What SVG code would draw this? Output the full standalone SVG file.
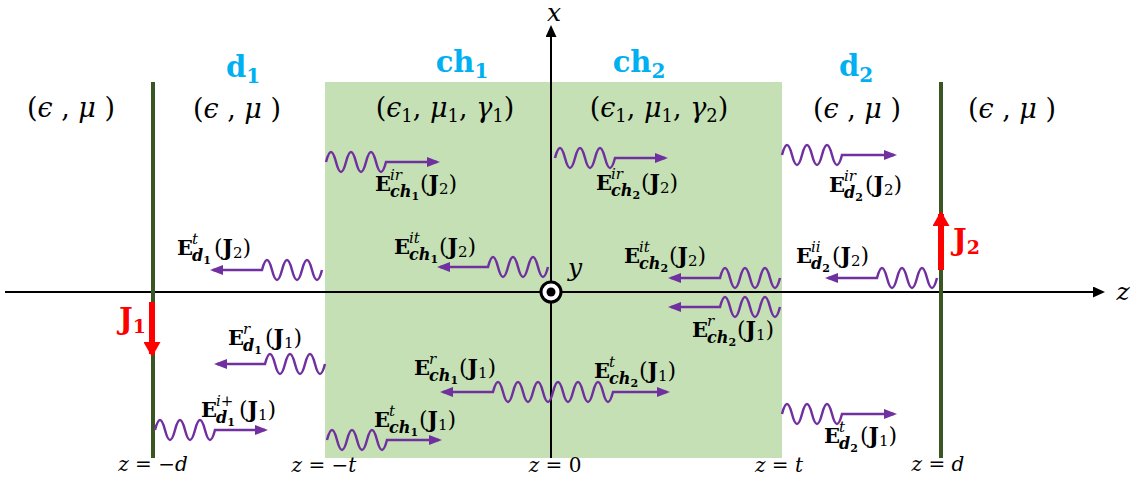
<svg xmlns="http://www.w3.org/2000/svg" width="1144" height="482" viewBox="0 0 1144 482">
<style>
text{font-family:"DejaVu Serif","Liberation Serif",serif;fill:#000}
.reg{font-size:27px}
.i{font-style:italic}
.n{font-size:18px}
.cy{font-size:29px;font-weight:bold;fill:#00B0F0}
.cys{font-size:20px}
.E{font-size:21px;font-weight:bold}
.sp{font-size:15px;font-style:italic}
.sb{font-size:16px;font-style:italic;font-weight:bold}
.ss{font-size:11px;font-weight:bold;font-style:normal}
.arg{font-size:22px}
.J{font-weight:bold}
.js{font-size:15px}
.red{fill:#FF0000;font-weight:bold;font-size:29px}
.ax{font-size:25px;font-style:italic}
.bot{font-size:20px}
.wave{fill:none;stroke:#7030A0;stroke-width:2.5}
.fw{marker-end:url(#ah)}
.bw{marker-start:url(#ah)}
.plate{stroke:#385723;stroke-width:4}
</style>
<defs>
<marker id="ah" viewBox="0 0 13 10" refX="10" refY="5" markerWidth="13" markerHeight="10" markerUnits="userSpaceOnUse" orient="auto-start-reverse"><path d="M0,0 L13,5 L0,10 z" fill="#7030A0"/></marker>
<marker id="axh" viewBox="0 0 12 11" refX="9" refY="5.5" markerWidth="12" markerHeight="11" markerUnits="userSpaceOnUse" orient="auto"><path d="M0,0 L12,5.5 L0,11 z" fill="#000"/></marker>
<marker id="rh" viewBox="0 0 15 17" refX="12" refY="8.5" markerWidth="15" markerHeight="17" markerUnits="userSpaceOnUse" orient="auto"><path d="M0,0 L15,8.5 L0,17 z" fill="#FF0000"/></marker>
</defs>

<g id="channel-region">
<rect x="325" y="82" width="457" height="376" fill="#C5E0B4"/>
</g>

<g id="axes">
<line x1="5" y1="292" x2="1102" y2="292" stroke="#000" stroke-width="2" marker-end="url(#axh)"/>
<line x1="551" y1="458" x2="551" y2="28" stroke="#000" stroke-width="2" marker-end="url(#axh)"/>
<text class="ax" x="554" y="21" text-anchor="middle">x</text>
<text class="ax" x="1123" y="300" text-anchor="middle">z</text>
<text class="ax" x="575" y="276" text-anchor="middle">y</text>
</g>

<g id="plate-left">
<line class="plate" x1="153" y1="82" x2="153" y2="458"/>
</g>
<g id="plate-right">
<line class="plate" x1="941" y1="82" x2="941" y2="458"/>
</g>

<g id="origin">
<circle cx="551" cy="292" r="10" fill="#fff" stroke="#000" stroke-width="3"/>
<circle cx="551" cy="292" r="4.5" fill="#000"/>
</g>

<g id="source-J1">
<line x1="152" y1="302" x2="152" y2="354" stroke="#FF0000" stroke-width="6" marker-end="url(#rh)"/>
<text class="red" x="119" y="329">J<tspan font-size="19" dy="4">1</tspan></text>
</g>
<g id="source-J2">
<line x1="941" y1="270" x2="941" y2="214" stroke="#FF0000" stroke-width="6" marker-end="url(#rh)"/>
<text class="red" x="953" y="250">J<tspan font-size="19" dy="4">2</tspan></text>
</g>

<g id="region-labels">
<text class="cy" x="243" y="77" text-anchor="middle">d<tspan class="cys" dy="6">1</tspan></text>
<text class="cy" x="462" y="72" text-anchor="middle">ch<tspan class="cys" dy="6">1</tspan></text>
<text class="cy" x="639" y="72" text-anchor="middle">ch<tspan class="cys" dy="6">2</tspan></text>
<text class="cy" x="856" y="76" text-anchor="middle">d<tspan class="cys" dy="6">2</tspan></text>
<text class="reg" x="71" y="117" text-anchor="middle">(<tspan class="i">ϵ</tspan> , <tspan class="i">μ</tspan> )</text>
<text class="reg" x="237" y="118" text-anchor="middle">(<tspan class="i">ϵ</tspan> , <tspan class="i">μ</tspan> )</text>
<text class="reg" x="445" y="117" text-anchor="middle">(<tspan class="i">ϵ</tspan><tspan class="n" dy="5">1</tspan><tspan dy="-5">, </tspan><tspan class="i">μ</tspan><tspan class="n" dy="5">1</tspan><tspan dy="-5">, </tspan><tspan class="i">γ</tspan><tspan class="n" dy="5">1</tspan><tspan dy="-5">)</tspan></text>
<text class="reg" x="659" y="117" text-anchor="middle">(<tspan class="i">ϵ</tspan><tspan class="n" dy="5">1</tspan><tspan dy="-5">, </tspan><tspan class="i">μ</tspan><tspan class="n" dy="5">1</tspan><tspan dy="-5">, </tspan><tspan class="i">γ</tspan><tspan class="n" dy="5">2</tspan><tspan dy="-5">)</tspan></text>
<text class="reg" x="857" y="118" text-anchor="middle">(<tspan class="i">ϵ</tspan> , <tspan class="i">μ</tspan> )</text>
<text class="reg" x="1012" y="118" text-anchor="middle">(<tspan class="i">ϵ</tspan> , <tspan class="i">μ</tspan> )</text>
</g>

<g id="position-labels">
<text class="bot" x="153" y="471" text-anchor="middle"><tspan class="i">z</tspan> = −<tspan class="i">d</tspan></text>
<text class="bot" x="324" y="472" text-anchor="middle"><tspan class="i">z</tspan> = −<tspan class="i">t</tspan></text>
<text class="bot" x="555" y="472" text-anchor="middle"><tspan class="i">z</tspan> = 0</text>
<text class="bot" x="779" y="472" text-anchor="middle"><tspan class="i">z</tspan> = <tspan class="i">t</tspan></text>
<text class="bot" x="938" y="471" text-anchor="middle"><tspan class="i">z</tspan> = <tspan class="i">d</tspan></text>
</g>

<g id="connectors">
<path class="wave fw" d="M326,162c3.5,-13.3 6.5,-13.3 10,0c3.5,13.3 6.5,13.3 10,0c3.5,-13.3 6.5,-13.3 10,0c3.5,13.3 6.5,13.3 10,0c3.5,-13.3 6.5,-13.3 10,0c3.5,13.3 6.5,13.3 10,0H437"/>
<path class="wave fw" d="M555,158c3.5,-13.3 6.5,-13.3 10,0c3.5,13.3 6.5,13.3 10,0c3.5,-13.3 6.5,-13.3 10,0c3.5,13.3 6.5,13.3 10,0c3.5,-13.3 6.5,-13.3 10,0c3.5,13.3 6.5,13.3 10,0H665"/>
<path class="wave fw" d="M782,155c3.5,-13.3 6.5,-13.3 10,0c3.5,13.3 6.5,13.3 10,0c3.5,-13.3 6.5,-13.3 10,0c3.5,13.3 6.5,13.3 10,0c3.5,-13.3 6.5,-13.3 10,0c3.5,13.3 6.5,13.3 10,0H894"/>
<path class="wave bw" d="M213,270H262c3.5,-13.3 6.5,-13.3 10,0c3.5,13.3 6.5,13.3 10,0c3.5,-13.3 6.5,-13.3 10,0c3.5,13.3 6.5,13.3 10,0c3.5,-13.3 6.5,-13.3 10,0c3.5,13.3 6.5,13.3 10,0"/>
<path class="wave bw" d="M440,267H488c3.5,-13.3 6.5,-13.3 10,0c3.5,13.3 6.5,13.3 10,0c3.5,-13.3 6.5,-13.3 10,0c3.5,13.3 6.5,13.3 10,0c3.5,-13.3 6.5,-13.3 10,0c3.5,13.3 6.5,13.3 10,0"/>
<path class="wave bw" d="M671,278H720c3.5,-13.3 6.5,-13.3 10,0c3.5,13.3 6.5,13.3 10,0c3.5,-13.3 6.5,-13.3 10,0c3.5,13.3 6.5,13.3 10,0c3.5,-13.3 6.5,-13.3 10,0c3.5,13.3 6.5,13.3 10,0"/>
<path class="wave bw" d="M828,278H877c3.5,-13.3 6.5,-13.3 10,0c3.5,13.3 6.5,13.3 10,0c3.5,-13.3 6.5,-13.3 10,0c3.5,13.3 6.5,13.3 10,0c3.5,-13.3 6.5,-13.3 10,0c3.5,13.3 6.5,13.3 10,0"/>
<path class="wave bw" d="M671,307H720c3.5,-13.3 6.5,-13.3 10,0c3.5,13.3 6.5,13.3 10,0c3.5,-13.3 6.5,-13.3 10,0c3.5,13.3 6.5,13.3 10,0c3.5,-13.3 6.5,-13.3 10,0c3.5,13.3 6.5,13.3 10,0"/>
<path class="wave bw" d="M217,364H265c3.5,-13.3 6.5,-13.3 10,0c3.5,13.3 6.5,13.3 10,0c3.5,-13.3 6.5,-13.3 10,0c3.5,13.3 6.5,13.3 10,0c3.5,-13.3 6.5,-13.3 10,0c3.5,13.3 6.5,13.3 10,0"/>
<path class="wave bw" d="M443,392H493c3.5,-13.3 6.5,-13.3 10,0c3.5,13.3 6.5,13.3 10,0c3.5,-13.3 6.5,-13.3 10,0c3.5,13.3 6.5,13.3 10,0c3.5,-13.3 6.5,-13.3 10,0c3.5,13.3 6.5,13.3 10,0"/>
<path class="wave fw" d="M553,392c3.5,-13.3 6.5,-13.3 10,0c3.5,13.3 6.5,13.3 10,0c3.5,-13.3 6.5,-13.3 10,0c3.5,13.3 6.5,13.3 10,0c3.5,-13.3 6.5,-13.3 10,0c3.5,13.3 6.5,13.3 10,0H667"/>
<path class="wave fw" d="M155,430c3.5,-13.3 6.5,-13.3 10,0c3.5,13.3 6.5,13.3 10,0c3.5,-13.3 6.5,-13.3 10,0c3.5,13.3 6.5,13.3 10,0c3.5,-13.3 6.5,-13.3 10,0c3.5,13.3 6.5,13.3 10,0H265"/>
<path class="wave fw" d="M327,440c3.5,-13.3 6.5,-13.3 10,0c3.5,13.3 6.5,13.3 10,0c3.5,-13.3 6.5,-13.3 10,0c3.5,13.3 6.5,13.3 10,0c3.5,-13.3 6.5,-13.3 10,0c3.5,13.3 6.5,13.3 10,0H439"/>
<path class="wave fw" d="M782,414c3.5,-13.3 6.5,-13.3 10,0c3.5,13.3 6.5,13.3 10,0c3.5,-13.3 6.5,-13.3 10,0c3.5,13.3 6.5,13.3 10,0c3.5,-13.3 6.5,-13.3 10,0c3.5,13.3 6.5,13.3 10,0H894"/>
</g>

<g id="field-labels">
<g id="lbl-ch1-ir"><text class="E" x="375" y="191">E</text><text class="sp" x="390" y="180">ir</text><text class="sb" x="390" y="197">ch<tspan class="ss" dy="3">1</tspan></text><text class="arg" x="420" y="191">(<tspan class="J">J</tspan><tspan class="js" dy="3">2</tspan><tspan dy="-3">)</tspan></text></g>
<g id="lbl-ch2-ir"><text class="E" x="596" y="190">E</text><text class="sp" x="611" y="179">ir</text><text class="sb" x="611" y="196">ch<tspan class="ss" dy="3">2</tspan></text><text class="arg" x="641" y="190">(<tspan class="J">J</tspan><tspan class="js" dy="3">2</tspan><tspan dy="-3">)</tspan></text></g>
<g id="lbl-d2-ir"><text class="E" x="829" y="192">E</text><text class="sp" x="844" y="181">ir</text><text class="sb" x="844" y="198">d<tspan class="ss" dy="3">2</tspan></text><text class="arg" x="865" y="192">(<tspan class="J">J</tspan><tspan class="js" dy="3">2</tspan><tspan dy="-3">)</tspan></text></g>
<g id="lbl-d1-t-J2"><text class="E" x="177" y="255">E</text><text class="sp" x="192" y="244">t</text><text class="sb" x="192" y="261">d<tspan class="ss" dy="3">1</tspan></text><text class="arg" x="214" y="255">(<tspan class="J">J</tspan><tspan class="js" dy="3">2</tspan><tspan dy="-3">)</tspan></text></g>
<g id="lbl-ch1-it"><text class="E" x="394" y="254">E</text><text class="sp" x="409" y="243">it</text><text class="sb" x="409" y="260">ch<tspan class="ss" dy="3">1</tspan></text><text class="arg" x="439" y="254">(<tspan class="J">J</tspan><tspan class="js" dy="3">2</tspan><tspan dy="-3">)</tspan></text></g>
<g id="lbl-ch2-it"><text class="E" x="624" y="263">E</text><text class="sp" x="639" y="252">it</text><text class="sb" x="639" y="269">ch<tspan class="ss" dy="3">2</tspan></text><text class="arg" x="669" y="263">(<tspan class="J">J</tspan><tspan class="js" dy="3">2</tspan><tspan dy="-3">)</tspan></text></g>
<g id="lbl-d2-ii"><text class="E" x="796" y="263">E</text><text class="sp" x="811" y="252">ii</text><text class="sb" x="811" y="269">d<tspan class="ss" dy="3">2</tspan></text><text class="arg" x="832" y="263">(<tspan class="J">J</tspan><tspan class="js" dy="3">2</tspan><tspan dy="-3">)</tspan></text></g>
<g id="lbl-ch2-r"><text class="E" x="692" y="337">E</text><text class="sp" x="707" y="326">r</text><text class="sb" x="707" y="343">ch<tspan class="ss" dy="3">2</tspan></text><text class="arg" x="737" y="337">(<tspan class="J">J</tspan><tspan class="js" dy="3">1</tspan><tspan dy="-3">)</tspan></text></g>
<g id="lbl-d1-r"><text class="E" x="228" y="345">E</text><text class="sp" x="243" y="334">r</text><text class="sb" x="243" y="351">d<tspan class="ss" dy="3">1</tspan></text><text class="arg" x="265" y="345">(<tspan class="J">J</tspan><tspan class="js" dy="3">1</tspan><tspan dy="-3">)</tspan></text></g>
<g id="lbl-ch1-r"><text class="E" x="414" y="375">E</text><text class="sp" x="429" y="364">r</text><text class="sb" x="429" y="381">ch<tspan class="ss" dy="3">1</tspan></text><text class="arg" x="459" y="375">(<tspan class="J">J</tspan><tspan class="js" dy="3">1</tspan><tspan dy="-3">)</tspan></text></g>
<g id="lbl-ch2-t"><text class="E" x="594" y="378">E</text><text class="sp" x="609" y="367">t</text><text class="sb" x="609" y="384">ch<tspan class="ss" dy="3">2</tspan></text><text class="arg" x="639" y="378">(<tspan class="J">J</tspan><tspan class="js" dy="3">1</tspan><tspan dy="-3">)</tspan></text></g>
<g id="lbl-d1-i"><text class="E" x="201" y="417">E</text><text class="sp" x="216" y="406">i+</text><text class="sb" x="216" y="423">d<tspan class="ss" dy="3">1</tspan></text><text class="arg" x="239" y="417">(<tspan class="J">J</tspan><tspan class="js" dy="3">1</tspan><tspan dy="-3">)</tspan></text></g>
<g id="lbl-ch1-t"><text class="E" x="374" y="427">E</text><text class="sp" x="389" y="416">t</text><text class="sb" x="389" y="433">ch<tspan class="ss" dy="3">1</tspan></text><text class="arg" x="419" y="427">(<tspan class="J">J</tspan><tspan class="js" dy="3">1</tspan><tspan dy="-3">)</tspan></text></g>
<g id="lbl-d2-t"><text class="E" x="824" y="443">E</text><text class="sp" x="839" y="432">t</text><text class="sb" x="839" y="449">d<tspan class="ss" dy="3">2</tspan></text><text class="arg" x="860" y="443">(<tspan class="J">J</tspan><tspan class="js" dy="3">1</tspan><tspan dy="-3">)</tspan></text></g>
</g>
</svg>
